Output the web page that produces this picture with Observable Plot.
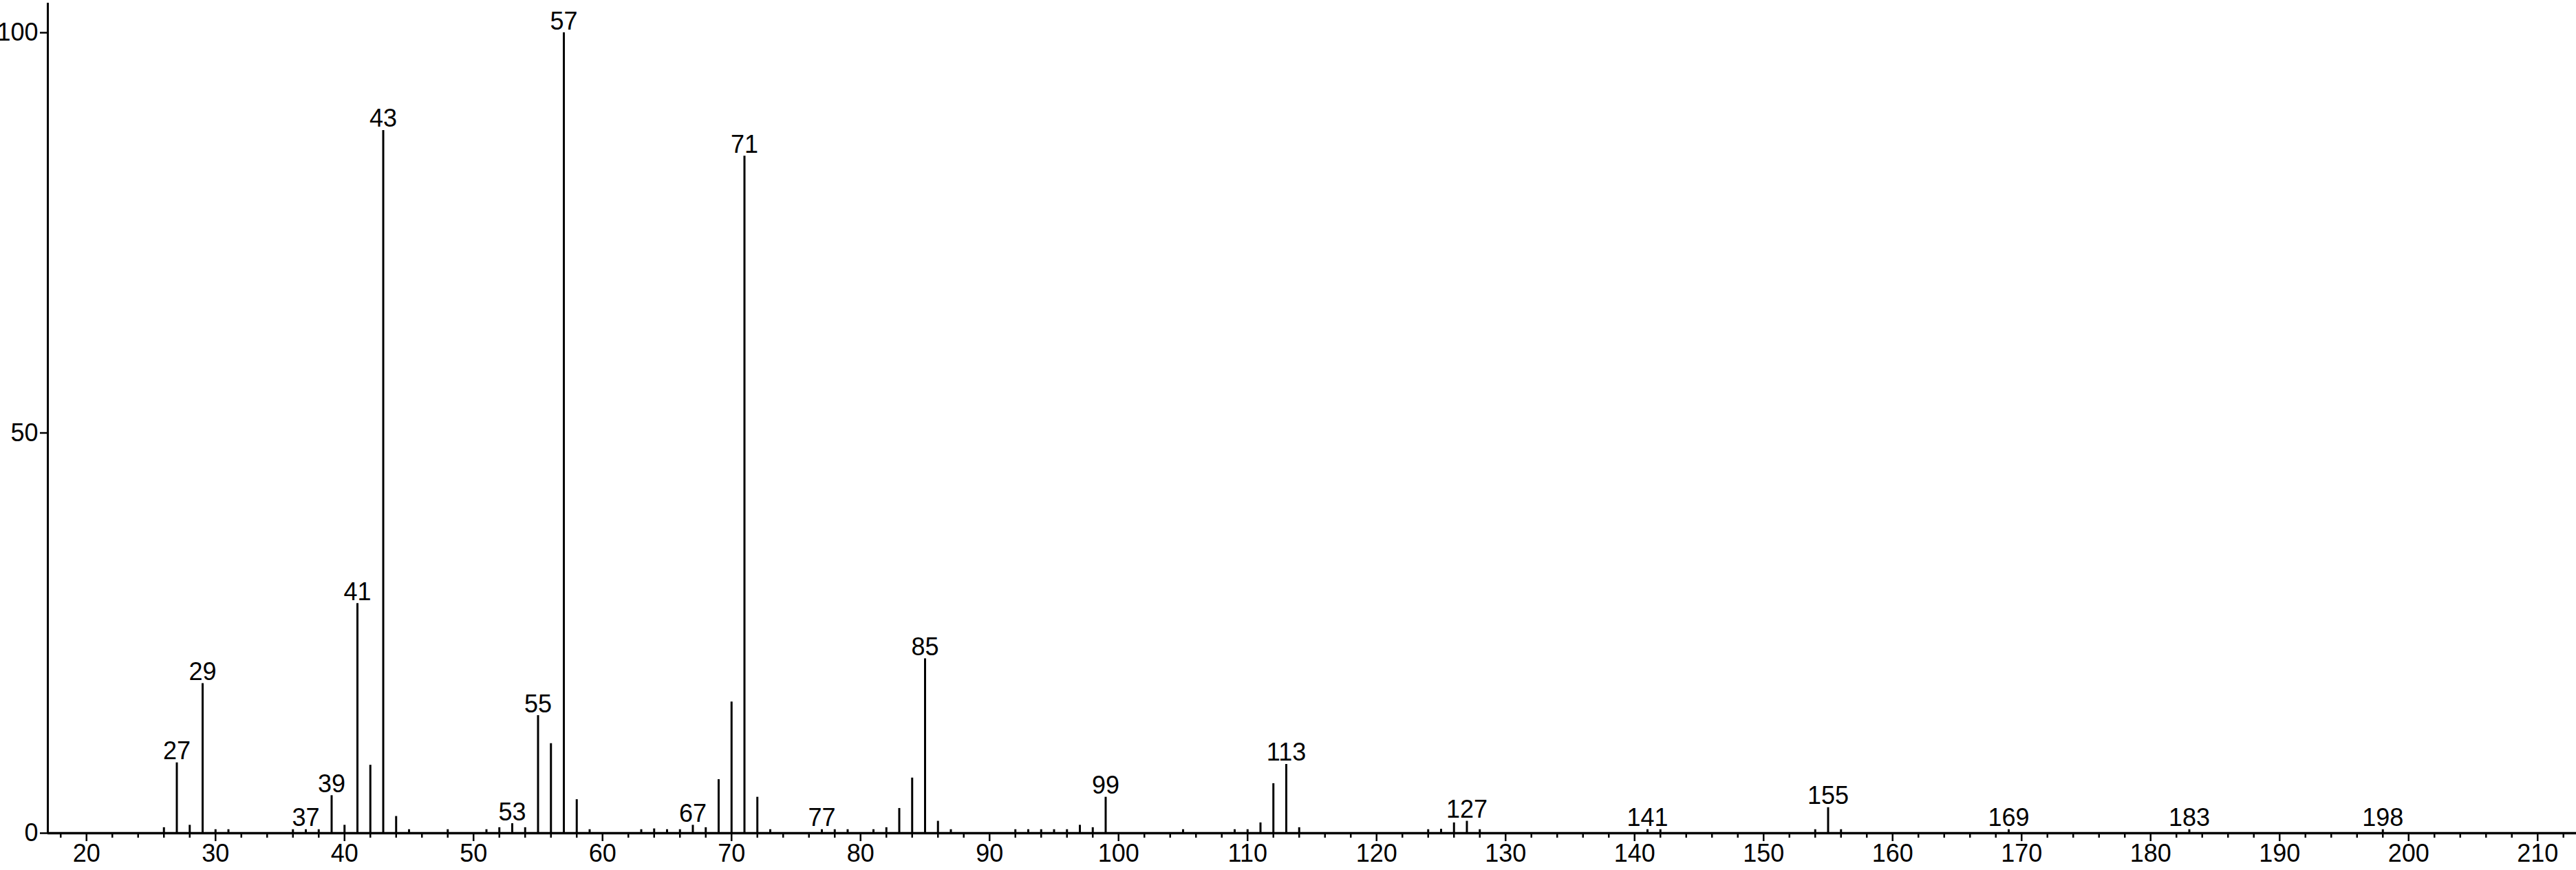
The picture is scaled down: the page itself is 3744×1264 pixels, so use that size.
<!DOCTYPE html>
<html>
<head>
<meta charset="utf-8">
<script src="https://cdn.jsdelivr.net/npm/d3@7"></script>
<script src="https://cdn.jsdelivr.net/npm/@observablehq/plot@0.6"></script>
<style>
  html, body { margin: 0; padding: 0; background: #fff; }
  #chart svg { display: block; }
</style>
</head>
<body>
<div id="chart"></div>
<script>
// m/z values and relative intensities (%)
const mz = [26, 27, 28, 29, 30, 31, 36, 37, 38, 39, 40, 41, 42, 43, 44, 45, 48,
  51, 52, 53, 54, 55, 56, 57, 58, 59, 63, 64, 65, 66, 67, 68, 69, 70, 71, 72, 73,
  77, 78, 79, 81, 82, 83, 84, 85, 86, 87, 92, 93, 94, 95, 96, 97, 98, 99,
  105, 109, 110, 111, 112, 113, 114, 124, 125, 126, 127, 128,
  141, 142, 154, 155, 156, 169, 183, 198];
const intensity = [0.7, 8.8, 1.0, 18.7, 0.45, 0.45, 0.45, 0.45, 0.45, 4.7, 1.0, 28.7, 8.5, 87.8, 2.1, 0.45, 0.45,
  0.45, 0.7, 1.2, 0.7, 14.7, 11.2, 100, 4.2, 0.45, 0.45, 0.55, 0.45, 0.45, 1.0, 0.7, 6.7, 16.4, 84.6, 4.5, 0.45,
  0.45, 0.45, 0.45, 0.45, 0.7, 3.1, 6.9, 21.8, 1.5, 0.45, 0.45, 0.45, 0.45, 0.45, 0.45, 1.0, 0.7, 4.5,
  0.45, 0.45, 0.45, 1.3, 6.2, 8.6, 0.7, 0.45, 0.5, 1.3, 1.5, 0.45,
  0.45, 0.45, 0.45, 3.2, 0.45, 0.45, 0.45, 0.45];
// peaks that carry an m/z label
const labeled = [27, 29, 37, 39, 41, 43, 53, 55, 57, 67, 71, 77, 85, 99, 113, 127, 141, 155, 169, 183, 198];
// axis ticks
const xMajorTicks = d3.range(20, 211, 10);
const xMinorTicks = d3.range(18, 213, 2).filter(v => v % 10 !== 0);
const yTicks = [0, 50, 100];

const peaks = mz.map((m, i) => ({mz: m, intensity: intensity[i]}));
const labels = peaks.filter(d => labeled.includes(d.mz));

const font = "'Liberation Sans Narrow', 'Liberation Sans', Arial, sans-serif";

const chart = Plot.plot({
  width: 3744,
  height: 1264,
  marginLeft: 69,
  marginRight: 0,
  marginTop: 4,
  marginBottom: 54,
  style: {fontFamily: font, fontSize: "35px", color: "#000", background: "#fff", overflow: "visible"},
  x: {domain: [17, 213], axis: null},
  y: {domain: [0, 103.7], axis: null},
  marks: [
    // minor x ticks
    Plot.axisX(xMinorTicks, {tickSize: 7, tickFormat: () => "", label: null, strokeWidth: 2.5, stroke: "#000"}),
    // major x ticks + labels
    Plot.axisX(xMajorTicks, {tickSize: 12, tickPadding: 4, fontSize: 36, label: null, strokeWidth: 2.5, stroke: "#000", fill: "#000", tickFormat: d => String(d)}),
    // y ticks
    Plot.axisY(yTicks, {tickSize: 11, tickPadding: 3, fontSize: 36, label: null, strokeWidth: 2.5, stroke: "#000", fill: "#000", tickFormat: d => String(d)}),
    // axis lines
    Plot.ruleX([17], {stroke: "#000", strokeWidth: 3}),
    Plot.ruleY([0], {stroke: "#000", strokeWidth: 3.5}),
    // spectrum stems
    Plot.ruleX(peaks, {x: "mz", y: "intensity", stroke: "#000", strokeWidth: 3}),
    // peak labels
    Plot.text(labels, {x: "mz", y: "intensity", text: d => String(d.mz), lineAnchor: "bottom", dy: -5, fontSize: 36, fill: "#000"})
  ]
});
document.getElementById("chart").appendChild(chart);
</script>
</body>
</html>
